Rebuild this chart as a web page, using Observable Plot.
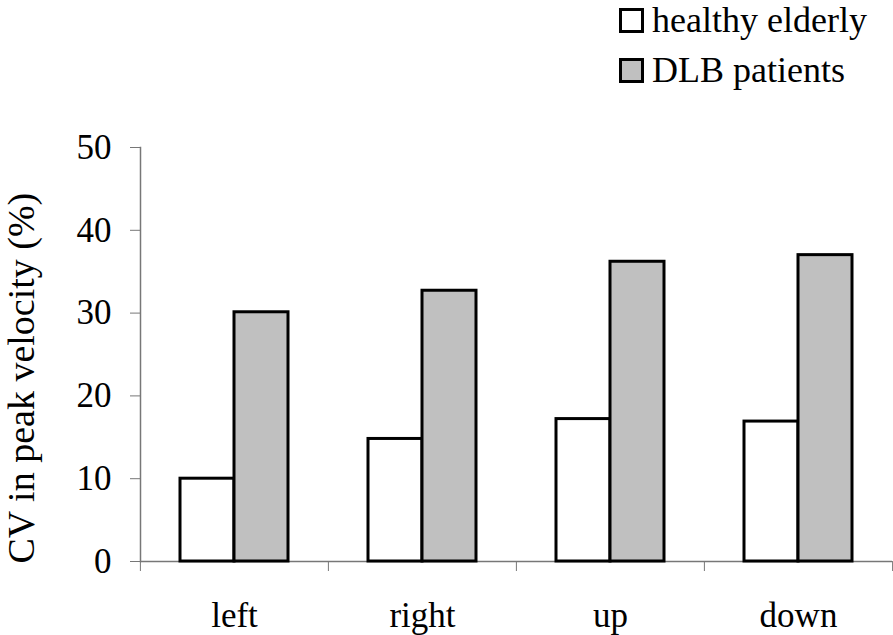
<!DOCTYPE html>
<html>
<head>
<meta charset="utf-8">
<script src="https://cdn.jsdelivr.net/npm/d3@7"></script>
<script src="https://cdn.jsdelivr.net/npm/@observablehq/plot@0.6"></script>
<style>
  body { margin: 0; background: white; font-family: "Liberation Serif", "Tinos", "Times New Roman", "DejaVu Serif", serif; }
  #legend { position: relative; width: 893px; height: 95px; }
  .row { position: absolute; left: 619px; height: 36px; line-height: 36px; font-size: 36px; display: flex; align-items: center; white-space: nowrap; }
  .sw { width: 19px; height: 19px; border: 3px solid black; margin-right: 8px; }
</style>
</head>
<body>
<div id="legend"></div>
<div id="chart"></div>
<script>
const categories = ["left", "right", "up", "down"];
const groups = ["healthy elderly", "DLB patients"];
const healthy = [10.0, 14.8, 17.2, 16.9];
const dlb = [30.1, 32.7, 36.2, 37.0];
const fills = ["white", "#c0c0c0"];
const yTicks = [0, 10, 20, 30, 40, 50];
const yLabel = "CV in peak velocity (%)";

const data = categories.flatMap((c, i) => [
  {category: c, group: groups[0], value: healthy[i]},
  {category: c, group: groups[1], value: dlb[i]}
]);

const FONT = '"Liberation Serif", "Tinos", "Times New Roman", "DejaVu Serif", serif';

// legend
const legend = document.getElementById("legend");
groups.forEach((g, i) => {
  const row = document.createElement("div");
  row.className = "row";
  row.style.top = (i === 0 ? 2 : 52) + "px";
  const sw = document.createElement("div");
  sw.className = "sw";
  sw.style.background = fills[i];
  const t = document.createElement("span");
  t.textContent = g;
  row.appendChild(sw);
  row.appendChild(t);
  legend.appendChild(row);
});

const chart = Plot.plot({
  width: 893,
  height: 540,
  marginTop: 52,
  marginBottom: 74,
  marginLeft: 139,
  marginRight: 1,
  style: {fontFamily: FONT, fontSize: "35px", color: "black", background: "white"},
  fx: {domain: categories, padding: 0},
  x: {domain: groups, paddingInner: 0, paddingOuter: 0.74, axis: null},
  y: {domain: [0, 50]},
  color: {domain: groups, range: fills},
  marks: [
    Plot.ruleY([0], {stroke: "#777", strokeWidth: 1.5}),
    Plot.frame({anchor: "left", fx: [categories[0]], stroke: "#777", strokeWidth: 1.5}),
    Plot.barY(data, {fx: "category", x: "group", y: "value", fill: "group", stroke: "black", strokeWidth: 3}),
    Plot.axisY({ticks: yTicks, tickSize: 10, tickPadding: 19, stroke: "#777", fill: "black", label: null}),
    Plot.text([yLabel], {fx: [categories[0]], text: d => d, frameAnchor: "bottom-left", rotate: -90,
      textAnchor: "start", lineAnchor: "top", dx: -133, dy: 2, fontSize: 38, fill: "black"}),
    Plot.axisFx({anchor: "bottom", tickSize: 0, tickPadding: 41, label: null, fill: "black"}),
    Plot.axisFx({anchor: "bottom", tickSize: 10, text: null, label: null, stroke: "#777", dx: -94.1}),
    Plot.axisFx({anchor: "bottom", ticks: [categories[categories.length - 1]], tickSize: 10, text: null, label: null, stroke: "#777", dx: 94.1})
  ]
});
document.getElementById("chart").appendChild(chart);
</script>
</body>
</html>
